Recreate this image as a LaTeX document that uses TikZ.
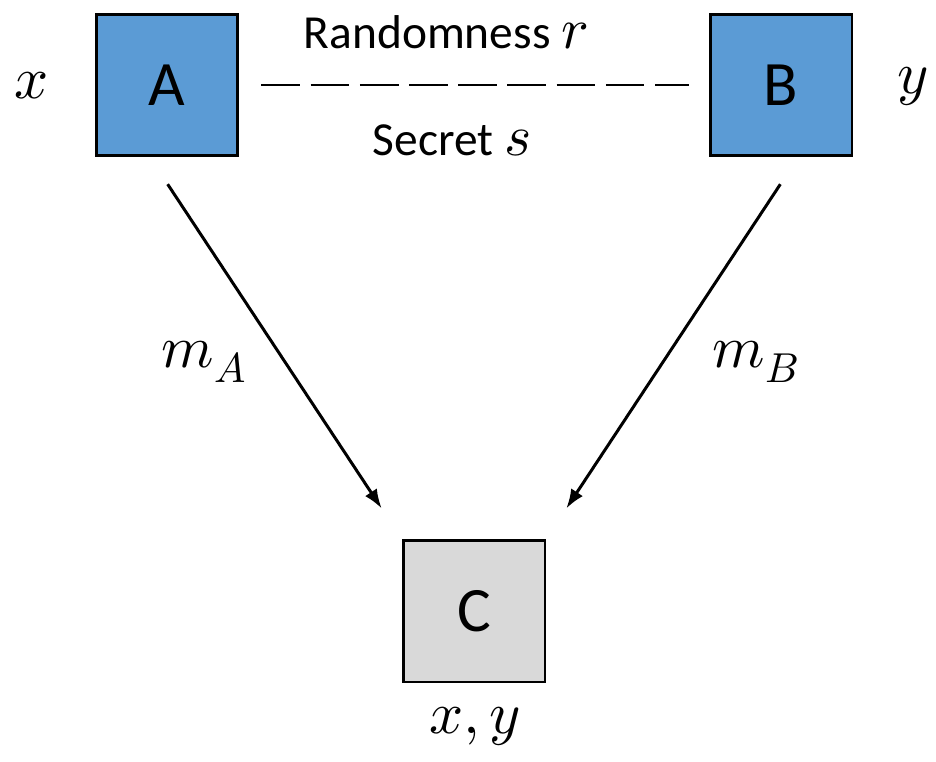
\documentclass[tikz,border=0pt]{standalone}
\usepackage{fontspec}
\usepackage{unicode-math}
\setmainfont{Carlito}
\setmathfont{Latin Modern Math}
\usepackage{tikz}
\usetikzlibrary{arrows.meta,positioning,calc}
\definecolor{PartyBlue}{HTML}{5B9BD5}
\definecolor{RefGray}{HTML}{D9D9D9}
\newcommand{\bigmath}[1]{{\fontsize{33}{36}\selectfont$#1$}}

\begin{document}
\begin{tikzpicture}[x=0.02cm,y=-0.02cm,>=Latex,
    party/.style={draw=black, line width=1.7pt, minimum size=2.84cm, inner sep=0pt, font=\fontsize{36}{40}\selectfont},
    msg/.style={->, line width=1.7pt, >={Latex[length=11pt,width=8pt]}},
    lbl/.style={font=\fontsize{34}{38}\selectfont}]
        \useasboundingbox (0,0) rectangle (936,761);
        \node[party, fill=PartyBlue] (A) at (167,85) {A};
        \node[party, fill=PartyBlue] (B) at (781,85) {B};
        \node[party, fill=RefGray] (C) at (474,611) {C};
        % inputs and output
        \node[lbl] (inx) at (32,86) {$x$};
        \node[lbl] (iny) at (913,86) {$y$};
        \node[lbl] (outxy) at (475,726) {$x,y$};
        % shared randomness
        \draw[line width=1.7pt, dash pattern=on 22pt off 6pt, shorten <=0.44cm, shorten >=0.4cm] (A.east) -- (B.west);
        \node[font=\fontsize{27}{32}\selectfont] (rand) at (446,32) {Randomness \bigmath{r}};
        \node[font=\fontsize{27}{32}\selectfont] (secret) at (452,140) {Secret \bigmath{s}};
        % messages to C
        \draw[msg, shorten <=0.64cm, shorten >=0.72cm] ([xshift=-0.34cm]A.south) -- (C.north west);
        \draw[msg, shorten <=0.64cm, shorten >=0.72cm] ([xshift=0.34cm]B.south) -- (C.north east);
        \node[lbl] (ma) at (204,362) {$m_A$};
        \node[lbl] (mb) at (756,362) {$m_B$};
    \end{tikzpicture}
\end{document}
